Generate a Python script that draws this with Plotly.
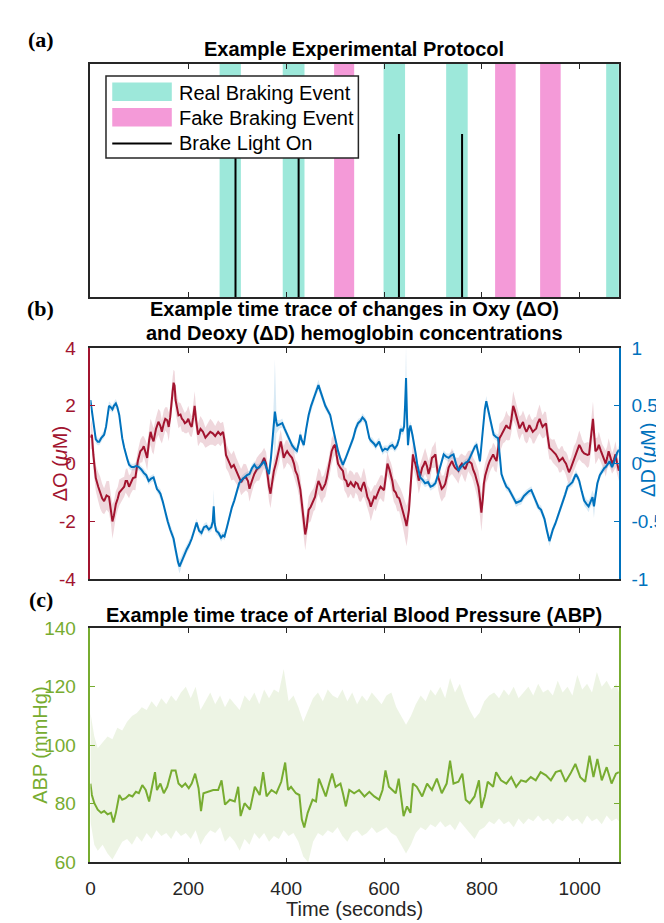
import plotly.graph_objects as go

W, H = 664, 923
def px(x): return x / W
def py(y): return 1 - y / H

# ---------------- Panel (a) data ----------------
real_start = [264, 393, 599, 727, 1054]
real_end = [307.5, 437.5, 643, 771, 1080]
fake_start = [498, 827, 919]
fake_end = [539, 869, 961]
brake_times = [296.5, 425.5, 630.5, 759.5]
brake_height = 0.7
x_ticks = [0, 200, 400, 600, 800, 1000]

# ---------------- Panel (b) data ----------------
oxy_t = [0,3,6,11,16,20,24,28,33,38,
         42,45,48,52,56,59,64,69,72,75,
         79,82,87,92,97,102,106,109,113,116,
         120,123,126,129,134,139,143,146,150,153,
         157,160,163,165,168,170,172,174,177,180,
         184,187,190,193,197,200,204,207,210,213,
         216,220,225,230,235,240,245,250,255,261,
         266,271,274,277,282,288,293,298,303,308,
         313,318,322,325,330,335,340,345,350,355,
         359,362,365,368,372,375,379,382,386,389,
         392,395,399,402,407,412,416,419,423,426,
         429,432,436,439,442,446,450,453,456,459,
         463,466,470,473,477,480,483,486,490,493,
         497,500,503,506,511,516,519,523,526,529,
         532,536,539,542,546,549,553,556,559,563,
         566,570,573,577,580,583,586,590,593,597,
         600,604,607,611,614,617,620,624,627,631,
         634,638,641,644,646,649,651,653,655,657,
         659,662,664,668,671,675,678,681,684,688,
         691,695,698,702,705,708,711,715,718,722,
         725,729,732,736,739,742,745,749,752,755,
         759,762,766,769,772,776,779,782,786,789,
         793,796,799,802,804,807,809,813,816,820,
         823,826,830,833,836,840,843,847,850,853,
         857,860,864,867,870,874,877,881,884,887,
         891,894,897,901,904,907,911,914,918,921,
         924,928,931,934,938,941,945,948,951,955,
         958,962,965,968,972,975,978,982,985,988,
         992,995,999,1002,1005,1009,1012,1016,1019,1023,
         1027,1030,1032,1036,1039,1043,1046,1050,1053,1056,
         1059,1063,1066,1070,1073,1076,1080]
oxy_val = [0.9,1.0,0.3,-0.5,-0.8,-1.0,-1.2,-1.3,-1.1,-1.15,
           -1.6,-2.0,-1.8,-1.4,-1.2,-1.0,-0.9,-0.8,-0.6,-0.6,
           -0.8,-0.7,-0.5,-0.47,0.1,0.43,0.5,0.6,0.4,0.2,
           0.8,1.1,0.9,0.77,1.2,1.45,1.3,1.1,1.4,1.55,
           1.5,1.27,1.6,2.1,2.5,2.8,2.7,2.2,1.9,1.67,
           1.7,1.55,1.5,1.4,1.45,1.55,1.35,1.27,1.6,2.0,
           1.5,1.0,1.2,1.1,0.9,1.0,1.1,1.05,0.95,1.1,
           1.0,1.1,0.8,0.3,0.1,-0.13,-0.05,-0.25,-0.4,-0.64,
           -0.5,-0.47,-0.6,-0.87,-0.6,-0.36,-0.2,-0.13,0.0,0.2,
           0.0,-0.47,-0.8,-1.04,-0.6,-0.25,0.0,0.2,0.5,0.77,
           0.5,0.2,0.35,0.43,0.3,0.2,0.0,-0.25,-0.4,-0.6,
           -0.9,-1.37,-2.0,-2.45,-2.2,-1.6,-1.5,-1.37,-1.25,-1.15,
           -0.8,-0.6,-0.75,-0.92,-0.8,-0.7,-0.5,-0.25,0.1,0.43,
           0.6,0.65,0.3,0.0,-0.15,-0.25,-0.53,-0.6,-0.8,-0.7,
           -0.64,-0.75,-0.8,-0.65,-0.7,-0.85,-0.92,-0.75,-0.64,-0.9,
           -1.15,-1.3,-1.49,-1.3,-1.15,-1.2,-1.04,-0.9,-0.8,-0.85,
           -0.92,-0.4,0.0,-0.2,-0.36,-0.6,-0.92,-1.0,-1.15,-1.2,
           -1.37,-1.6,-1.8,-2.0,-2.16,-1.9,-1.6,-1.1,-0.7,-0.2,
           0.32,0.1,0.0,-0.3,-0.59,-0.35,-0.14,-0.05,0.09,-0.1,
           -0.36,-0.1,0.2,0.25,0.32,-0.1,-0.47,-0.7,-0.87,-0.8,
           -0.7,-0.4,-0.14,0.0,0.09,-0.05,-0.14,-0.2,-0.25,-0.1,
           0.0,-0.1,-0.19,-0.05,0.09,0.05,0.0,-0.2,-0.36,-0.55,
           -0.8,-1.2,-1.7,-1.2,-0.7,-0.4,-0.25,-0.05,0.09,0.2,
           0.32,0.2,0.09,0.5,0.88,1.0,1.1,1.2,1.33,1.25,
           1.22,1.5,2.0,1.85,1.67,1.4,1.22,1.35,1.44,1.25,
           1.1,1.2,1.33,1.2,1.1,1.15,1.22,1.4,1.55,1.4,
           1.27,1.35,1.39,1.0,0.54,0.5,0.43,0.4,0.32,0.2,
           0.09,0.15,0.2,0.1,0.0,-0.15,-0.3,-0.15,0.0,0.15,
           0.32,0.5,0.65,0.55,0.43,0.35,0.32,0.3,0.32,0.9,
           1.55,0.9,0.43,0.5,0.65,0.45,0.32,0.15,0.0,0.2,
           0.43,0.2,0.0,0.15,0.32,0.05,-0.25]
oxy_sd = [0.4,0.5,0.5,0.45,0.5,0.55,0.5,0.45,0.5,0.55,
          0.5,0.6,0.5,0.45,0.4,0.45,0.4,0.35,0.4,0.45,
          0.4,0.35,0.4,0.45,0.35,0.4,0.45,0.35,0.4,0.45,
          0.4,0.45,0.5,0.45,0.4,0.45,0.5,0.4,0.45,0.4,
          0.45,0.5,0.4,0.45,0.5,0.45,0.5,0.45,0.4,0.45,
          0.4,0.45,0.4,0.35,0.4,0.45,0.4,0.35,0.45,0.5,
          0.45,0.4,0.45,0.4,0.35,0.4,0.45,0.4,0.35,0.4,
          0.4,0.35,0.4,0.45,0.4,0.45,0.5,0.45,0.4,0.45,
          0.5,0.45,0.4,0.45,0.4,0.35,0.4,0.45,0.4,0.35,
          0.4,0.45,0.5,0.5,0.45,0.4,0.35,0.4,0.45,0.4,
          0.35,0.4,0.45,0.4,0.35,0.4,0.45,0.4,0.45,0.5,
          0.45,0.5,0.55,0.55,0.5,0.45,0.5,0.45,0.4,0.45,
          0.4,0.45,0.5,0.45,0.4,0.45,0.4,0.35,0.4,0.45,
          0.4,0.35,0.4,0.45,0.4,0.35,0.4,0.45,0.4,0.45,
          0.4,0.45,0.4,0.35,0.4,0.45,0.4,0.45,0.5,0.45,
          0.4,0.45,0.5,0.45,0.4,0.45,0.4,0.35,0.4,0.45,
          0.4,0.45,0.4,0.35,0.4,0.45,0.4,0.45,0.5,0.45,
          0.5,0.55,0.6,0.65,0.7,0.6,0.55,0.5,0.45,0.4,
          0.45,0.4,0.35,0.4,0.45,0.4,0.35,0.4,0.45,0.4,
          0.45,0.4,0.35,0.4,0.45,0.4,0.45,0.5,0.45,0.4,
          0.45,0.4,0.35,0.4,0.45,0.4,0.35,0.4,0.45,0.4,
          0.35,0.4,0.45,0.4,0.35,0.4,0.45,0.4,0.45,0.5,
          0.55,0.6,0.65,0.55,0.5,0.45,0.4,0.45,0.4,0.35,
          0.4,0.45,0.4,0.45,0.5,0.45,0.4,0.45,0.5,0.45,
          0.4,0.45,0.5,0.45,0.4,0.45,0.4,0.35,0.4,0.45,
          0.4,0.45,0.4,0.35,0.4,0.45,0.4,0.45,0.5,0.45,
          0.4,0.45,0.4,0.45,0.4,0.35,0.4,0.45,0.4,0.35,
          0.4,0.45,0.4,0.35,0.4,0.45,0.4,0.35,0.4,0.45,
          0.4,0.45,0.5,0.45,0.4,0.35,0.4,0.45,0.4,0.5,
          0.6,0.55,0.45,0.4,0.45,0.4,0.35,0.4,0.45,0.4,
          0.45,0.4,0.35,0.4,0.45,0.4,0.35]

deoxy_t = [0,3,5,8,11,15,18,22,25,28,
           32,35,38,41,45,48,52,55,59,62,
           65,69,72,76,79,84,89,94,99,104,
           109,114,119,124,129,133,136,140,143,148,
           153,158,163,166,170,173,176,179,182,185,
           188,192,197,202,207,212,217,222,227,232,
           237,242,247,250,252,254,257,262,267,271,
           274,279,284,289,294,299,304,309,314,320,
           325,330,335,340,345,350,355,360,365,369,
           372,375,377,380,382,387,392,397,402,407,
           412,417,422,426,429,432,436,441,446,451,
           456,461,466,469,473,477,480,485,490,495,
           500,503,506,511,516,521,526,531,537,542,
           547,552,556,560,563,567,570,573,576,580,
           583,587,590,594,597,602,607,612,617,622,
           627,631,634,638,641,643,645,647,649,652,
           654,658,661,665,668,671,674,679,684,690,
           695,700,705,710,715,719,722,727,732,737,
           742,747,752,757,762,767,772,777,782,786,
           789,793,796,800,803,806,809,812,816,820,
           824,829,833,837,840,845,850,855,860,865,
           870,875,880,886,891,896,901,906,911,916,
           921,925,928,933,938,941,945,950,955,960,
           965,970,975,980,985,989,992,996,999,1004,
           1009,1014,1018,1022,1026,1029,1033,1036,1041,1046,
           1050,1053,1057,1061,1064,1066,1070,1073,1076,1080]
deoxy_val = [0.55,0.45,0.36,0.28,0.21,0.19,0.19,0.22,0.24,0.25,
             0.32,0.42,0.5,0.49,0.47,0.5,0.52,0.49,0.42,0.32,
             0.22,0.14,0.08,0.03,-0.01,-0.03,-0.03,-0.02,-0.03,-0.05,
             -0.08,-0.1,-0.15,-0.13,-0.12,-0.17,-0.22,-0.24,-0.26,-0.33,
             -0.43,-0.5,-0.57,-0.6,-0.65,-0.72,-0.79,-0.85,-0.89,-0.86,
             -0.82,-0.78,-0.74,-0.7,-0.65,-0.58,-0.51,-0.58,-0.6,-0.55,
             -0.54,-0.57,-0.55,-0.5,-0.37,-0.52,-0.58,-0.6,-0.64,-0.62,
             -0.63,-0.55,-0.46,-0.38,-0.32,-0.24,-0.17,-0.14,-0.12,-0.1,
             -0.09,-0.04,-0.01,-0.04,-0.03,0.0,0.02,-0.04,-0.09,0.05,
             0.19,0.38,0.45,0.36,0.33,0.34,0.35,0.3,0.25,0.2,
             0.16,0.13,0.11,0.18,0.25,0.2,0.16,0.3,0.42,0.5,
             0.56,0.62,0.68,0.64,0.59,0.53,0.5,0.46,0.42,0.32,
             0.22,0.16,0.11,0.04,-0.01,0.04,0.1,0.15,0.22,0.3,
             0.35,0.37,0.4,0.38,0.36,0.28,0.22,0.2,0.19,0.17,
             0.15,0.18,0.19,0.14,0.11,0.13,0.12,0.15,0.16,0.13,
             0.16,0.22,0.3,0.28,0.32,0.5,0.74,0.4,0.16,0.3,
             0.33,0.25,0.19,0.08,-0.01,-0.08,-0.12,-0.14,-0.17,-0.16,
             -0.2,-0.19,-0.17,-0.1,-0.03,0.04,0.08,0.06,0.05,0.07,
             0.08,0.0,-0.06,-0.03,-0.01,0.01,0.02,0.07,0.12,0.15,
             0.16,0.08,0.02,0.2,0.36,0.47,0.54,0.48,0.39,0.3,
             0.25,0.23,0.22,0.05,-0.09,-0.15,-0.2,-0.22,-0.26,-0.3,
             -0.34,-0.33,-0.32,-0.28,-0.26,-0.24,-0.23,-0.28,-0.34,-0.38,
             -0.4,-0.45,-0.48,-0.58,-0.67,-0.63,-0.57,-0.52,-0.46,-0.4,
             -0.34,-0.27,-0.2,-0.18,-0.16,-0.12,-0.09,-0.12,-0.15,-0.24,
             -0.32,-0.35,-0.37,-0.33,-0.29,-0.37,-0.25,-0.17,-0.1,-0.06,
             -0.04,-0.03,0.0,0.02,-0.01,-0.03,0.01,0.05,0.09,0.12]
deoxy_sd = [0.04,0.035,0.03,0.03,0.035,0.03,0.03,0.035,0.03,0.03,
            0.035,0.03,0.04,0.035,0.03,0.035,0.04,0.035,0.03,0.035,
            0.03,0.035,0.03,0.03,0.035,0.03,0.03,0.035,0.03,0.03,
            0.035,0.03,0.035,0.03,0.03,0.035,0.03,0.035,0.04,0.035,
            0.035,0.04,0.035,0.04,0.045,0.04,0.05,0.05,0.06,0.05,
            0.045,0.04,0.035,0.04,0.035,0.03,0.035,0.03,0.035,0.03,
            0.035,0.03,0.035,0.05,0.15,0.05,0.035,0.03,0.035,0.03,
            0.035,0.03,0.035,0.03,0.035,0.03,0.035,0.03,0.035,0.03,
            0.03,0.035,0.03,0.035,0.03,0.035,0.03,0.035,0.03,0.05,
            0.08,0.2,0.45,0.1,0.05,0.035,0.04,0.035,0.03,0.035,
            0.03,0.035,0.03,0.035,0.04,0.035,0.03,0.035,0.04,0.035,
            0.04,0.035,0.045,0.04,0.035,0.03,0.035,0.03,0.035,0.03,
            0.035,0.03,0.035,0.03,0.035,0.03,0.035,0.03,0.035,0.04,
            0.035,0.03,0.035,0.03,0.035,0.03,0.035,0.03,0.035,0.03,
            0.035,0.03,0.035,0.03,0.035,0.03,0.035,0.03,0.035,0.03,
            0.035,0.03,0.04,0.035,0.05,0.12,0.28,0.12,0.05,0.04,
            0.035,0.03,0.035,0.03,0.035,0.04,0.035,0.04,0.035,0.03,
            0.035,0.03,0.035,0.03,0.035,0.03,0.035,0.03,0.035,0.03,
            0.035,0.03,0.035,0.03,0.035,0.03,0.035,0.03,0.035,0.03,
            0.035,0.04,0.035,0.04,0.035,0.04,0.045,0.04,0.035,0.03,
            0.035,0.03,0.035,0.04,0.035,0.03,0.035,0.03,0.035,0.03,
            0.035,0.03,0.035,0.03,0.035,0.03,0.035,0.03,0.035,0.03,
            0.035,0.03,0.035,0.04,0.045,0.04,0.035,0.03,0.035,0.03,
            0.035,0.03,0.035,0.03,0.035,0.03,0.035,0.03,0.035,0.04,
            0.045,0.04,0.05,0.045,0.06,0.1,0.05,0.04,0.035,0.03,
            0.035,0.03,0.035,0.03,0.035,0.03,0.035,0.03,0.035,0.04]
oxy_ticks = [-4, -2, 0, 2, 4]
oxy_ticktext = ["-4", "-2", "0", "2", "4"]
deoxy_ticks = [-1, -0.5, 0, 0.5, 1]
deoxy_ticktext = ["-1", "-0.5", "0", "0.5", "1"]

# ---------------- Panel (c) data ----------------
abp_t = [0,3,8,15,22,28,35,42,47,52,
         59,65,72,79,86,93,99,106,113,120,
         126,132,136,143,150,157,166,174,180,187,
         194,201,207,214,221,226,231,241,251,261,
         268,275,285,295,302,307,315,326,336,346,
         353,360,370,380,390,398,404,410,420,427,
         432,437,444,454,461,467,474,481,488,494,
         501,511,516,522,529,539,549,560,570,580,
         590,597,603,610,617,624,630,636,640,647,
         654,659,667,678,688,698,708,718,728,735,
         742,752,760,767,775,785,794,799,806,812,
         823,829,839,850,860,870,880,890,900,910,
         920,931,941,951,961,971,981,991,1001,1011,
         1020,1028,1036,1045,1055,1065,1074,1080]
abp_val = [86.9,83,80.2,78,76.9,77.5,76.4,76.9,73.6,76.9,
           83,81.4,81.9,83,82.5,84.1,83.6,86.4,84.7,80.8,
           85.8,90.8,84.7,86.9,83.6,85.8,91.4,91.4,86.9,85.8,
           86.9,85.3,86.9,90.3,85.3,77.5,83.6,84.1,84.7,84.7,
           88,79.7,81.4,80.8,85.8,75.8,80.2,78,85.8,83,
           90.8,82.5,84.7,83.6,87.5,94.1,84.7,85.8,83.6,83,
           74.7,71.9,76.9,81.4,80.8,88.6,85.8,82.5,86.9,90.3,
           85.8,86.9,83.6,79.1,84.7,83.6,84.7,82.5,84.1,82.5,
           81.4,84.7,91.4,85.8,84.7,83.6,88.6,81.9,75.8,79.1,
           76.9,86.9,85.8,82.5,86.9,84.7,88.6,83.6,86.9,94.7,
           86.9,87.5,90.3,81.4,80.2,82.5,88,78.6,82.5,87.5,
           85.8,90.8,88,86.9,89.1,85.8,88,87.5,89.1,88,
           90.8,89.7,88,90.8,91.4,87.5,90.3,93.6,89.1,87.5,
           96.4,89.1,95.3,88,92.5,86.9,90.3,90.8]
abp_band_t = [0,8,15,25,35,45,55,65,75,85,
              95,105,115,125,135,145,155,165,175,185,
              195,205,215,225,235,245,255,265,275,285,
              295,305,315,325,335,345,355,365,375,385,
              395,405,415,425,435,445,455,465,475,485,
              495,505,515,525,535,545,555,565,575,585,
              595,605,615,625,635,645,655,665,675,685,
              695,705,715,725,735,745,755,765,775,785,
              795,805,815,825,835,845,855,865,875,885,
              895,905,915,925,935,945,955,965,975,985,
              995,1005,1015,1025,1035,1045,1055,1065,1075,1080]
abp_upper = [111,103,99,101,103,102,106,105,108,110,
             111,113,112,115,113,116,114,117,115,118,
             120,116,120,112,115,118,114,117,113,116,
             114,112,117,115,118,114,119,116,119,118,
             126,115,117,113,108,112,116,118,115,119,
             117,116,119,115,118,114,117,115,118,116,
             114,117,118,113,110,107,110,114,117,115,
             119,117,120,116,123,118,121,116,112,109,
             111,115,117,118,116,119,117,120,116,118,
             120,117,121,118,119,117,122,118,120,117,
             124,119,121,118,125,120,122,119,121,118]
abp_lower = [74,66,64,66,63,61,64,67,68,66,
             69,67,70,68,71,69,70,68,71,69,
             70,68,71,66,69,71,70,72,67,69,
             67,64,68,66,70,68,70,67,69,68,
             71,69,70,67,62,60,67,70,69,71,
             70,72,69,67,70,71,69,70,72,70,
             71,72,70,69,66,63,66,70,72,71,
             73,72,74,72,73,71,74,72,70,68,
             71,72,74,73,75,73,74,72,75,73,
             75,74,76,74,75,73,75,74,76,74,
             75,73,76,74,75,73,76,74,75,74]
abp_ticks = [60, 80, 100, 120, 140]

for a, b in [(oxy_t, oxy_val), (oxy_t, oxy_sd), (deoxy_t, deoxy_val), (deoxy_t, deoxy_sd),
             (abp_t, abp_val), (abp_band_t, abp_upper), (abp_band_t, abp_lower)]:
    assert len(a) == len(b), (len(a), len(b))

# ---------------- Styles ----------------
RED = "#A2142F"
BLUE = "#0072BD"
GREEN = "#77AC30"
TEAL = "#9DE8DA"
PINK = "#F49AD8"
AXC = "#262626"
FONT = "Liberation Sans, Arial, sans-serif"
SERIF = "Liberation Serif, Times New Roman, serif"

XD = [px(78), px(610.5)]
YA = [py(285.7), py(47)]
YB = [py(574.3), py(337.7)]
YC = [py(864), py(624.3)]

fig = go.Figure()

# Panel (a)
def rects(starts, ends):
    xs, ys = [], []
    for s, e in zip(starts, ends):
        xs += [s, e, e, s, s, None]
        ys += [0, 0, 1, 1, 0, None]
    return xs, ys

rx, ry = rects(real_start, real_end)
fig.add_trace(go.Scatter(x=rx, y=ry, fill="toself", fillcolor=TEAL, mode="lines",
                         line=dict(width=0, color=TEAL), name="Real Braking Event",
                         showlegend=False, hoverinfo="skip", xaxis="x", yaxis="y"))
fx_, fy_ = rects(fake_start, fake_end)
fig.add_trace(go.Scatter(x=fx_, y=fy_, fill="toself", fillcolor=PINK, mode="lines",
                         line=dict(width=0, color=PINK), name="Fake Braking Event",
                         showlegend=False, hoverinfo="skip", xaxis="x", yaxis="y"))
bx, by = [], []
for t in brake_times:
    bx += [t, t, None]
    by += [0, brake_height, None]
fig.add_trace(go.Scatter(x=bx, y=by, mode="lines", line=dict(color="black", width=2),
                         name="Brake Light On", showlegend=False, xaxis="x", yaxis="y"))

# Panel (b)
def band(t, v, sd):
    up = [a + b for a, b in zip(v, sd)]
    lo = [a - b for a, b in zip(v, sd)]
    return t + t[::-1], up + lo[::-1]

ox, oy = band(oxy_t, oxy_val, oxy_sd)
fig.add_trace(go.Scatter(x=ox, y=oy, fill="toself", fillcolor="rgba(162,20,47,0.17)",
                         mode="lines", line=dict(width=0), showlegend=False,
                         hoverinfo="skip", xaxis="x2", yaxis="y2"))
fig.add_trace(go.Scatter(x=oxy_t, y=oxy_val, mode="lines", line=dict(color=RED, width=2),
                         showlegend=False, xaxis="x2", yaxis="y2"))
dx, dy = band(deoxy_t, deoxy_val, deoxy_sd)
fig.add_trace(go.Scatter(x=dx, y=dy, fill="toself", fillcolor="rgba(0,114,189,0.15)",
                         mode="lines", line=dict(width=0), showlegend=False,
                         hoverinfo="skip", xaxis="x2", yaxis="y3"))
fig.add_trace(go.Scatter(x=deoxy_t, y=deoxy_val, mode="lines", line=dict(color=BLUE, width=2),
                         showlegend=False, xaxis="x2", yaxis="y3"))

# Panel (c)
fig.add_trace(go.Scatter(x=abp_band_t + abp_band_t[::-1], y=abp_upper + abp_lower[::-1],
                         fill="toself", fillcolor="rgba(119,172,48,0.13)", mode="lines",
                         line=dict(width=0), showlegend=False, hoverinfo="skip",
                         xaxis="x3", yaxis="y4"))
fig.add_trace(go.Scatter(x=abp_t, y=abp_val, mode="lines", line=dict(color=GREEN, width=2),
                         showlegend=False, xaxis="x3", yaxis="y4"))

xcommon = dict(domain=XD, range=[0, 1080], tickvals=x_ticks, ticks="inside", ticklen=5,
               tickcolor=AXC, tickwidth=1, showline=True, linecolor=AXC, linewidth=1.5,
               mirror="ticks", showgrid=False, zeroline=False)

fig.update_layout(
    width=W, height=H, margin=dict(l=0, r=0, t=0, b=0),
    paper_bgcolor="white", plot_bgcolor="white",
    font=dict(family=FONT, size=19, color=AXC),
    showlegend=False,
    xaxis=dict(**xcommon, anchor="y", showticklabels=False),
    yaxis=dict(domain=YA, range=[0, 1], anchor="x", showticklabels=False, ticks="",
               showline=True, linecolor=AXC, linewidth=1.5, mirror=True,
               showgrid=False, zeroline=False),
    xaxis2=dict(**xcommon, anchor="y2", showticklabels=False),
    yaxis2=dict(domain=YB, range=[-4, 4], anchor="x2", tickvals=oxy_ticks, ticktext=oxy_ticktext,
                ticks="inside", ticklen=5, tickcolor=RED, showline=True, linecolor=RED,
                linewidth=1.5, showgrid=False, zeroline=False, ticklabelstandoff=9,
                tickfont=dict(color=RED, size=19, family=FONT)),
    yaxis3=dict(range=[-1, 1], anchor="x2", overlaying="y2", side="right",
                tickvals=deoxy_ticks, ticktext=deoxy_ticktext,
                ticks="inside", ticklen=5, tickcolor=BLUE, showline=True, linecolor=BLUE,
                linewidth=1.5, showgrid=False, zeroline=False, ticklabelstandoff=7,
                tickfont=dict(color=BLUE, size=19, family=FONT)),
    xaxis3=dict(**xcommon, anchor="y4", showticklabels=True, ticklabelstandoff=8,
                tickfont=dict(color=AXC, size=19, family=FONT)),
    yaxis4=dict(domain=YC, range=[60, 140], anchor="x3", tickvals=abp_ticks,
                ticks="inside", ticklen=5, tickcolor=GREEN, showline=True, linecolor=GREEN,
                linewidth=1.5, mirror="ticks", showgrid=False, zeroline=False,
                ticklabelstandoff=9, tickfont=dict(color=GREEN, size=19, family=FONT)),
)

# Custom legend box (layout decoration)
shapes = [
    dict(type="rect", xref="paper", yref="paper", x0=px(93.7), x1=px(348), y0=py(143.3), y1=py(59.3),
         line=dict(color=AXC, width=1.5), fillcolor="white", layer="above"),
    dict(type="rect", xref="paper", yref="paper", x0=px(100), x1=px(160), y0=py(85), y1=py(66),
         line=dict(width=0), fillcolor=TEAL, layer="above"),
    dict(type="rect", xref="paper", yref="paper", x0=px(100), x1=px(160), y0=py(111), y1=py(92),
         line=dict(width=0), fillcolor=PINK, layer="above"),
    dict(type="line", xref="paper", yref="paper", x0=px(100), x1=px(160), y0=py(128.3), y1=py(128.3),
         line=dict(color="black", width=2), layer="above"),
]
fig.update_layout(shapes=shapes)

ann = []
def text(x, y, s, size=19, color=AXC, family=FONT, xanchor="center", angle=0, bold=False):
    ann.append(dict(x=px(x), y=py(y), xref="paper", yref="paper", text=("<b>%s</b>" % s) if bold else s,
                    showarrow=False, xanchor=xanchor, yanchor="middle", textangle=angle,
                    font=dict(size=size, color=color, family=family)))

text(28, 22, "(a)", size=22, color="black", family=SERIF, bold=True)
text(28, 297, "(b)", size=22, color="black", family=SERIF, bold=True)
text(28, 595, "(c)", size=22, color="black", family=SERIF, bold=True)
text(344, 32, "Example Experimental Protocol", size=20, color="black", bold=True)
text(344, 298, "Example time trace of changes in Oxy (ΔO)", size=20, color="black", bold=True)
text(344, 322, "and Deoxy (ΔD) hemoglobin concentrations", size=20, color="black", bold=True)
text(344, 611, "Example time trace of Arterial Blood Pressure (ABP)", size=20, color="black", bold=True)
text(165.5, 76.7, "Real Braking Event", size=20, color="black", xanchor="left")
text(165.5, 102.7, "Fake Braking Event", size=20, color="black", xanchor="left")
text(165.5, 128.3, "Brake Light On", size=20, color="black", xanchor="left")
text(47, 456, "ΔO (<i>μ</i>M)", size=20, color=RED, angle=-90)
text(640, 452, "ΔD (<i>μ</i>M)", size=20, color=BLUE, angle=-90)
text(27, 744, "ABP (mmHg)", size=20, color=GREEN, angle=-90)
text(344, 912, "Time (seconds)", size=20, color=AXC)
fig.update_layout(annotations=ann)

fig.write_html("out.html")
